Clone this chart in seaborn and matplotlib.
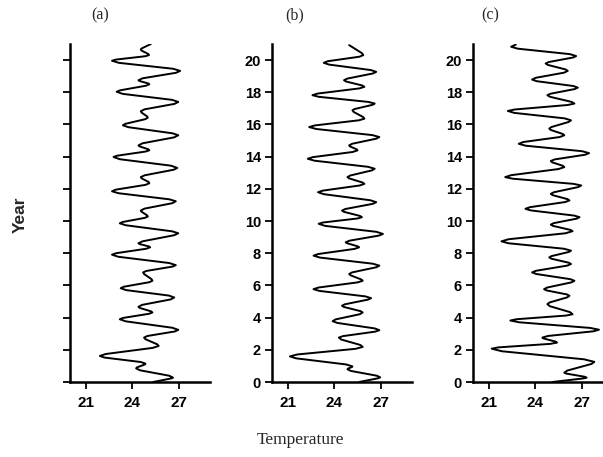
import matplotlib
matplotlib.use("Agg")
import matplotlib.pyplot as plt
import pandas as pd
import seaborn as sns

# ---- data (year, temperature along each trace) ----
years_a = [0.00, 0.22, 0.27, 0.39, 0.73, 0.85, 0.91, 1.08, 1.14, 1.24, 1.52, 1.62,
           1.74, 2.12, 2.24, 2.34, 2.66, 2.76, 2.86, 3.14, 3.24, 3.37, 3.77, 3.90,
           3.98, 4.24, 4.32, 4.39, 4.60, 4.67, 4.79, 5.13, 5.25, 5.37, 5.71, 5.83,
           5.92, 6.20, 6.29, 6.39, 6.71, 6.81, 6.90, 7.17, 7.26, 7.39, 7.78, 7.91,
           8.00, 8.28, 8.37, 8.42, 8.57, 8.62, 8.74, 9.12, 9.24, 9.36, 9.74, 9.86,
           9.94, 10.20, 10.28, 10.35, 10.58, 10.65, 10.77, 11.11, 11.23, 11.35, 11.73, 11.85,
           11.95, 12.25, 12.35, 12.43, 12.65, 12.73, 12.84, 13.19, 13.30, 13.44, 13.84, 13.98,
           14.06, 14.32, 14.40, 14.46, 14.64, 14.70, 14.83, 15.20, 15.33, 15.45, 15.83, 15.95,
           16.04, 16.33, 16.42, 16.50, 16.74, 16.82, 16.94, 17.28, 17.40, 17.53, 17.90, 18.03,
           18.12, 18.41, 18.50, 18.55, 18.70, 18.75, 18.87, 19.21, 19.33, 19.46, 19.83, 19.96,
           20.03, 20.24, 20.31, 20.38, 20.59, 20.66, 20.73, 21.00]
temps_a = [25.35, 26.49, 26.62, 26.38, 24.49, 24.25, 24.31, 24.79, 24.85, 24.56, 22.21, 21.92,
           22.30, 25.32, 25.70, 25.61, 24.85, 24.76, 24.98, 26.74, 26.96, 26.58, 23.58, 23.20,
           23.41, 25.09, 25.30, 25.21, 24.49, 24.40, 24.63, 26.47, 26.70, 26.36, 23.60, 23.26,
           23.46, 25.10, 25.30, 25.24, 24.76, 24.70, 24.91, 26.59, 26.80, 26.39, 23.11, 22.70,
           22.95, 24.91, 25.15, 25.08, 24.48, 24.40, 24.66, 26.70, 26.96, 26.58, 23.58, 23.20,
           23.38, 24.82, 25.00, 24.96, 24.60, 24.55, 24.78, 26.58, 26.80, 26.39, 23.11, 22.70,
           22.94, 24.86, 25.10, 25.05, 24.61, 24.55, 24.79, 26.67, 26.90, 26.49, 23.21, 22.80,
           23.03, 24.87, 25.10, 25.03, 24.47, 24.40, 24.66, 26.70, 26.96, 26.60, 23.76, 23.40,
           23.56, 24.84, 25.00, 24.96, 24.60, 24.55, 24.79, 26.72, 26.96, 26.56, 23.40, 23.00,
           23.21, 24.89, 25.10, 25.03, 24.47, 24.40, 24.67, 26.81, 27.08, 26.64, 23.14, 22.70,
           22.94, 24.84, 25.08, 25.03, 24.60, 24.55, 24.62, 25.20]

years_b = [0.00, 0.23, 0.29, 0.39, 0.69, 0.79, 0.83, 0.93, 0.97, 1.09, 1.47, 1.59,
           1.71, 2.06, 2.18, 2.30, 2.64, 2.76, 2.85, 3.13, 3.22, 3.33, 3.67, 3.78,
           3.89, 4.21, 4.32, 4.40, 4.66, 4.74, 4.83, 5.12, 5.21, 5.32, 5.66, 5.77,
           5.87, 6.19, 6.29, 6.37, 6.63, 6.71, 6.81, 7.13, 7.23, 7.35, 7.73, 7.85,
           7.95, 8.27, 8.37, 8.43, 8.62, 8.68, 8.78, 9.10, 9.20, 9.33, 9.70, 9.83,
           9.91, 10.16, 10.24, 10.32, 10.57, 10.65, 10.75, 11.07, 11.17, 11.29, 11.67, 11.79,
           11.89, 12.21, 12.31, 12.39, 12.65, 12.73, 12.83, 13.15, 13.25, 13.37, 13.75, 13.87,
           13.97, 14.29, 14.39, 14.45, 14.64, 14.70, 14.80, 15.12, 15.22, 15.34, 15.72, 15.84,
           15.94, 16.26, 16.36, 16.46, 16.78, 16.88, 16.96, 17.22, 17.30, 17.40, 17.72, 17.82,
           17.92, 18.24, 18.34, 18.42, 18.67, 18.75, 18.85, 19.17, 19.27, 19.38, 19.72, 19.83,
           19.93, 20.21, 20.31, 20.43, 20.93]
temps_b = [25.60, 26.82, 26.95, 26.74, 25.06, 24.85, 24.88, 25.14, 25.17, 24.77, 21.55, 21.15,
           21.62, 25.36, 25.83, 25.68, 24.45, 24.30, 24.56, 26.64, 26.90, 26.60, 24.20, 23.90,
           24.09, 25.64, 25.83, 25.70, 24.63, 24.50, 24.69, 26.18, 26.37, 26.00, 23.04, 22.67,
           22.99, 25.51, 25.83, 25.74, 25.05, 24.96, 25.15, 26.71, 26.90, 26.48, 23.09, 22.67,
           22.96, 25.31, 25.60, 25.51, 24.83, 24.74, 24.98, 26.89, 27.13, 26.72, 23.41, 23.00,
           23.28, 25.50, 25.78, 25.65, 24.63, 24.50, 24.72, 26.48, 26.70, 26.33, 23.33, 22.96,
           23.26, 25.64, 25.94, 25.83, 24.96, 24.85, 25.03, 26.43, 26.60, 26.17, 22.73, 22.30,
           22.62, 25.18, 25.50, 25.45, 25.01, 24.96, 25.15, 26.71, 26.90, 26.45, 22.84, 22.39,
           22.75, 25.59, 25.94, 25.86, 25.25, 25.17, 25.31, 26.46, 26.60, 26.20, 23.00, 22.60,
           22.93, 25.61, 25.94, 25.81, 24.76, 24.63, 24.84, 26.49, 26.70, 26.36, 23.67, 23.33,
           23.58, 25.62, 25.87, 25.78, 24.96]

years_c = [0.00, 0.22, 0.27, 0.33, 0.52, 0.58, 0.71, 1.12, 1.25, 1.41, 1.91, 2.07,
           2.15, 2.37, 2.45, 2.51, 2.70, 2.76, 2.86, 3.15, 3.25, 3.36, 3.71, 3.82,
           3.90, 4.13, 4.21, 4.34, 4.71, 4.84, 4.94, 5.26, 5.36, 5.44, 5.69, 5.77,
           5.87, 6.19, 6.29, 6.39, 6.71, 6.81, 6.91, 7.23, 7.33, 7.41, 7.66, 7.74,
           7.82, 8.08, 8.16, 8.28, 8.62, 8.74, 8.87, 9.24, 9.37, 9.45, 9.70, 9.78,
           9.87, 10.15, 10.24, 10.34, 10.66, 10.76, 10.86, 11.18, 11.28, 11.36, 11.61, 11.69,
           11.79, 12.11, 12.21, 12.31, 12.63, 12.73, 12.85, 13.23, 13.35, 13.43, 13.65, 13.73,
           13.83, 14.12, 14.22, 14.34, 14.68, 14.80, 14.91, 15.22, 15.33, 15.41, 15.66, 15.74,
           15.84, 16.16, 16.26, 16.38, 16.72, 16.84, 16.93, 17.21, 17.30, 17.40, 17.72, 17.82,
           17.91, 18.20, 18.29, 18.39, 18.69, 18.79, 18.90, 19.22, 19.33, 19.42, 19.70, 19.79,
           19.88, 20.16, 20.25, 20.37, 20.71, 20.83, 20.96]
temps_c = [25.10, 27.08, 27.30, 27.16, 26.01, 25.87, 26.06, 27.61, 27.80, 27.14, 21.86, 21.20,
           21.62, 24.98, 25.40, 25.31, 24.55, 24.46, 24.82, 27.74, 28.10, 27.53, 22.97, 22.40,
           22.80, 26.00, 26.40, 26.24, 24.94, 24.78, 24.92, 26.06, 26.20, 26.04, 24.73, 24.57,
           24.77, 26.33, 26.52, 26.25, 24.07, 23.80, 24.05, 26.05, 26.30, 26.16, 25.04, 24.90,
           25.04, 26.16, 26.30, 25.85, 22.28, 21.83, 22.29, 25.94, 26.40, 26.26, 25.14, 25.00,
           25.19, 26.67, 26.85, 26.50, 23.72, 23.37, 23.65, 25.92, 26.20, 26.08, 25.12, 25.00,
           25.20, 26.76, 26.96, 26.47, 22.56, 22.07, 22.45, 25.49, 25.87, 25.78, 25.09, 25.00,
           25.25, 27.21, 27.46, 27.01, 23.39, 22.94, 23.23, 25.58, 25.87, 25.77, 25.00, 24.90,
           25.04, 26.16, 26.30, 25.89, 22.65, 22.24, 22.67, 26.09, 26.52, 26.35, 24.95, 24.78,
           24.98, 26.54, 26.74, 26.45, 24.09, 23.80, 24.03, 25.86, 26.09, 25.95, 24.81, 24.67,
           24.87, 26.43, 26.63, 26.23, 22.87, 22.45, 22.75]

panel_labels = ["(a)", "(b)", "(c)"]
x_ticks = [21, 24, 27]
y_ticks = [0, 2, 4, 6, 8, 10, 12, 14, 16, 18, 20]
x_label = "Temperature"
y_label = "Year"

# ---- styling ----
sns.set_theme(style="ticks")
plt.rcParams["font.family"] = ["Liberation Sans", "DejaVu Sans"]

W, H = 603, 457
fig = plt.figure(figsize=(W / 100, H / 100), dpi=100)

panels = [(years_a, temps_a), (years_b, temps_b), (years_c, temps_c)]
lefts_px = [70, 272, 473]
label_x_px = [100, 295, 490]
ax_bottom_px, ax_top_px, ax_w_px = 382, 44, 140

for i, ((yrs, tmp), lab) in enumerate(zip(panels, panel_labels)):
    ax = fig.add_axes([lefts_px[i] / W, 1 - ax_bottom_px / H,
                       ax_w_px / W, (ax_bottom_px - ax_top_px) / H])
    df = pd.DataFrame({"Year": yrs, "Temperature": tmp})
    sns.lineplot(data=df, x="Temperature", y="Year", sort=False, estimator=None,
                 color="black", linewidth=1.4, ax=ax)
    for ln in ax.get_lines():
        ln.set_solid_joinstyle("round")
        ln.set_solid_capstyle("round")
    ax.set_xlim(20, 29)
    ax.set_ylim(0, 21)
    ax.set_xticks(x_ticks)
    ax.set_yticks(y_ticks)
    ax.set_xlabel("")
    ax.set_ylabel("")
    for s in ["top", "right"]:
        ax.spines[s].set_visible(False)
    for s in ["left", "bottom"]:
        ax.spines[s].set_linewidth(1.8)
        ax.spines[s].set_color("black")
    ax.tick_params(axis="both", direction="out", length=5, width=1.3,
                   color="black", labelcolor="black")
    ax.tick_params(axis="x", labelsize=11, pad=5)
    ax.tick_params(axis="y", labelsize=10.5, pad=3)
    for t in ax.get_xticklabels() + ax.get_yticklabels():
        t.set_fontweight("bold")
    if i == 0:
        ax.set_yticklabels([])
    ax.set_facecolor("white")
    fig.text(label_x_px[i] / W, 1 - 15 / H, lab, ha="center", va="center",
             family=["Liberation Serif", "DejaVu Serif"], fontsize=11.5)

fig.text(300 / W, 1 - 440 / H, x_label, ha="center", va="center",
         family=["Liberation Serif", "DejaVu Serif"], fontsize=12.5)
fig.text(20 / W, 1 - 215 / H, y_label, ha="center", va="center", rotation=90,
         fontweight="bold", fontsize=12.5)

fig.savefig("out.png", dpi=100, facecolor="white")
